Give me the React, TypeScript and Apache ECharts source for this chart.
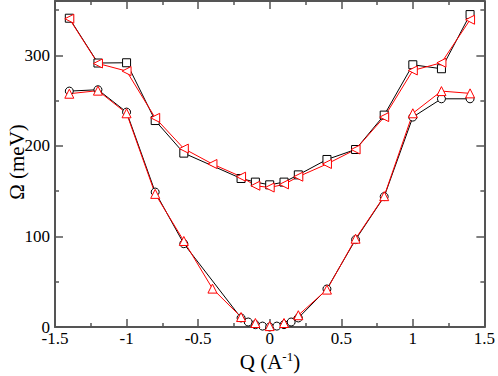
import React, { useEffect, useRef } from "react";
import * as echarts from "echarts";

const qUpperSq = [-1.4, -1.2, -1.0, -0.8, -0.6, -0.2, -0.1, 0, 0.1, 0.2, 0.4, 0.6, 0.8, 1.0, 1.2, 1.4];
const upperSq = [341, 291.5, 291.8, 228, 192, 164, 160, 157, 160, 168, 185, 196, 234, 289.6, 285.2, 345];

const qUpperTri = [-1.4, -1.2, -1.0, -0.8, -0.6, -0.4, -0.2, -0.1, 0, 0.1, 0.2, 0.4, 0.6, 0.8, 1.0, 1.2, 1.4];
const upperTri = [340.4, 291, 282.6, 231, 197, 180, 166, 156, 154, 157.5, 166, 180, 196, 231.8, 283.3, 291.8, 339.3];

const qLowerCirc = [-1.4, -1.2, -1.0, -0.8, -0.6, -0.2, -0.15, -0.1, -0.05, 0, 0.05, 0.1, 0.15, 0.2, 0.4, 0.6, 0.8, 1.0, 1.2, 1.4];
const lowerCirc = [260.5, 262, 237.3, 149, 92, 10, 5.5, 2.6, 1, 0, 1, 2.6, 5.5, 10, 42, 96.5, 144, 231.8, 252, 252];

const qLowerTri = [-1.4, -1.2, -1.0, -0.8, -0.6, -0.4, -0.2, -0.1, 0, 0.1, 0.2, 0.4, 0.6, 0.8, 1.0, 1.2, 1.4];
const lowerTri = [257.6, 261, 236, 147, 95, 42.4, 11, 4.4, 1, 4.4, 13, 41.3, 97.5, 144.5, 236, 260.5, 258];

const FONT = "Liberation Serif, Times New Roman, Times, serif";
const AXIS_COLOR = "#555";

function pairs(xs: number[], ys: number[]) {
  return xs.map((x, i) => [x, ys[i]]);
}

export default function App() {
  const ref = useRef<HTMLDivElement>(null);
  useEffect(() => {
    if (!ref.current) return;
    const chart = echarts.init(ref.current, null, { renderer: "svg" });
    const axisLine = { show: true, onZero: false, lineStyle: { color: AXIS_COLOR, width: 2 } };
    const axisTick = { show: true, inside: true, length: 8, lineStyle: { color: AXIS_COLOR, width: 1.5 } };
    const minorTick = { show: true, splitNumber: 2, length: 4, lineStyle: { color: AXIS_COLOR, width: 1.5 } };
    const mkX = (pos: string, labels: boolean) => ({
      type: "value",
      position: pos,
      min: -1.5,
      max: 1.5,
      interval: 0.5,
      axisLine,
      axisTick,
      minorTick,
      splitLine: { show: false },
      axisLabel: labels
        ? { show: true, fontFamily: FONT, fontSize: 17, color: "#000", margin: 3 }
        : { show: false },
    });
    const mkY = (pos: string, labels: boolean) => ({
      type: "value",
      position: pos,
      min: 0,
      max: 360,
      interval: 100,
      axisLine,
      axisTick,
      minorTick,
      splitLine: { show: false },
      axisLabel: labels
        ? { show: true, fontFamily: FONT, fontSize: 17, color: "#000", margin: 5, showMaxLabel: false }
        : { show: false },
    });
    const lineSeries = (data: number[][], color: string, symbol: string, size: number, rotate = 0) => ({
      type: "line",
      data,
      xAxisIndex: 0,
      yAxisIndex: 0,
      symbol,
      symbolSize: size,
      symbolRotate: rotate,
      showAllSymbol: true,
      clip: false,
      lineStyle: { color, width: 1 },
      itemStyle: { color: "#fff", borderColor: color, borderWidth: 1 },
      emphasis: { disabled: true },
    });
    chart.setOption({
      animation: false,
      grid: { left: 55, right: 12, top: 1, bottom: 49 },
      xAxis: [mkX("bottom", true), mkX("top", false)],
      yAxis: [mkY("left", true), mkY("right", false)],
      series: [
        lineSeries(pairs(qUpperSq, upperSq), "#000", "rect", 8),
        lineSeries(pairs(qLowerCirc, lowerCirc), "#000", "circle", 8),
        lineSeries(pairs(qUpperTri, upperTri), "#ff0000", "triangle", 9, 90),
        lineSeries(pairs(qLowerTri, lowerTri), "#ff0000", "triangle", 9),
      ],
      graphic: [
        {
          type: "text",
          x: 270,
          y: 362,
          style: {
            text: "{n|Q (A}{s|-1}{n|)}",
            align: "center",
            verticalAlign: "middle",
            rich: {
              n: { fontFamily: FONT, fontSize: 21, fill: "#000" },
              s: { fontFamily: FONT, fontSize: 13, fill: "#000", padding: [0, 0, 12, 0] },
            },
          },
        },
        {
          type: "text",
          x: 17,
          y: 162,
          rotation: Math.PI / 2,
          style: {
            text: "Ω (meV)",
            fontFamily: FONT,
            fontSize: 21,
            fill: "#000",
            align: "center",
            verticalAlign: "middle",
          },
        },
      ],
    });
    return () => chart.dispose();
  }, []);
  return <div ref={ref} style={{ width: 498, height: 376, position: "absolute", left: 0, top: 0 }} />;
}
